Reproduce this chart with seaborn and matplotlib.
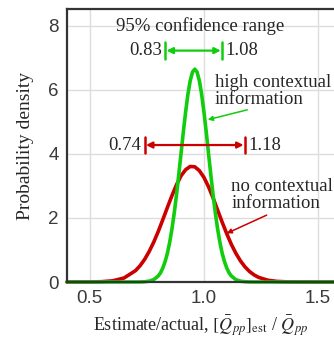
import numpy as np
import pandas as pd
import seaborn as sns
import matplotlib.pyplot as plt

# estimate/actual values and densities
x_high = [0.40, 0.60, 0.70, 0.72, 0.74, 0.76, 0.78, 0.80, 0.81, 0.82, 0.83, 0.84, 0.85,
          0.86, 0.87, 0.88, 0.89, 0.90, 0.91, 0.92, 0.93, 0.94, 0.95, 0.96, 0.97, 0.98,
          0.99, 1.00, 1.01, 1.02, 1.03, 1.04, 1.05, 1.06, 1.07, 1.08, 1.09, 1.10, 1.11,
          1.12, 1.14, 1.16, 1.18, 1.20, 1.22, 1.30, 1.57]
y_high = [0.0, 0.0, 0.001, 0.002, 0.008, 0.026, 0.074, 0.19, 0.29, 0.44, 0.64, 0.90, 1.24,
          1.66, 2.16, 2.73, 3.37, 4.03, 4.70, 5.32, 5.87, 6.29, 6.56, 6.65, 6.56, 6.29,
          5.87, 5.32, 4.70, 4.03, 3.37, 2.73, 2.16, 1.66, 1.24, 0.90, 0.64, 0.44, 0.29,
          0.19, 0.074, 0.026, 0.008, 0.002, 0.001, 0.0, 0.0]

x_none = [0.40, 0.50, 0.55, 0.60, 0.65, 0.70, 0.72, 0.74, 0.76, 0.78, 0.80, 0.82, 0.84,
          0.86, 0.88, 0.90, 0.92, 0.94, 0.96, 0.98, 1.00, 1.02, 1.04, 1.06, 1.08, 1.10,
          1.12, 1.14, 1.16, 1.18, 1.20, 1.22, 1.24, 1.28, 1.32, 1.36, 1.40, 1.50, 1.57]
y_none = [0.0, 0.002, 0.009, 0.037, 0.126, 0.354, 0.507, 0.705, 0.952, 1.245, 1.58, 1.95,
          2.33, 2.70, 3.04, 3.32, 3.51, 3.61, 3.60, 3.48, 3.27, 2.98, 2.63, 2.25, 1.87,
          1.51, 1.18, 0.898, 0.662, 0.473, 0.328, 0.221, 0.144, 0.056, 0.019, 0.006,
          0.002, 0.0, 0.0]

# 95% confidence ranges
ci_high = [0.83, 1.08]
ci_none = [0.74, 1.18]

green = '#12cc0e'
red = '#cc0000'

sns.set_style('whitegrid')
plt.rcParams['font.family'] = ['Liberation Serif', 'DejaVu Serif']
plt.rcParams['mathtext.fontset'] = 'stix'

fig = plt.figure(figsize=(3.34, 3.41), dpi=100)
ax = fig.add_axes([0.2006, 0.173, 0.80, 0.8006])

df = pd.concat([
    pd.DataFrame({'x': x_none, 'y': y_none, 'case': 'none'}),
    pd.DataFrame({'x': x_high, 'y': y_high, 'case': 'high'}),
])
sns.lineplot(data=df, x='x', y='y', hue='case', palette={'none': red, 'high': green},
             linewidth=2.6, legend=False, ax=ax, sort=False)
for line in ax.lines:
    line.set_clip_on(False)

ax.set_xlim(0.4, 1.571)
ax.set_ylim(0, 8.53)
ax.set_xticks([0.5, 1.0, 1.5])
ax.set_yticks([0, 2, 4, 6, 8])
ax.set_xticklabels(['0.5', '1.0', '1.5'], family='Liberation Sans', color='#3a3a3a', fontsize=13.5)
ax.set_yticklabels(['0', '2', '4', '6', '8'], family='Liberation Sans', color='#3a3a3a', fontsize=13.5)
ax.grid(True, color='#dddddd', linewidth=1.0)
ax.tick_params(direction='inout', length=6, width=1.2, color='#333333', pad=3)
for side in ['left', 'top', 'bottom']:
    ax.spines[side].set_color('#333333')
    ax.spines[side].set_linewidth(1.6)
ax.spines['right'].set_visible(False)

ax.set_ylabel('Probability density', fontsize=14, labelpad=10)
ax.set_xlabel(r'Estimate/actual, $[\bar{Q}_{pp}]_{\rm est}$ / $\bar{Q}_{pp}$', fontsize=13, labelpad=4)

# confidence range bars
ax.text(0.982, 8.0, '95% confidence range', ha='center', va='center', fontsize=13.5)
for (lo, hi), yb, col in [(ci_high, 7.23, green), (ci_none, 4.28, red)]:
    ax.annotate('', xy=(lo, yb), xytext=(hi, yb),
                arrowprops=dict(arrowstyle='<|-|>', color=col, lw=1.6,
                                mutation_scale=9, shrinkA=1, shrinkB=1))
    ax.plot([lo, lo], [yb - 0.26, yb + 0.26], color=col, lw=1.8)
    ax.plot([hi, hi], [yb - 0.26, yb + 0.26], color=col, lw=1.8)
    ax.text(lo - 0.015, yb, f'{lo:.2f}', ha='right', va='center', fontsize=13.5)
    ax.text(hi + 0.015, yb, f'{hi:.2f}', ha='left', va='center', fontsize=13.5)

# curve labels
ax.text(1.048, 5.97, 'high contextual\ninformation', ha='left', va='center',
        fontsize=13.5, linespacing=0.95)
ax.annotate('', xy=(1.017, 5.07), xytext=(1.19, 5.38),
            arrowprops=dict(arrowstyle='-|>', color=green, lw=1.1, mutation_scale=7,
                            shrinkA=0, shrinkB=0))
ax.text(1.12, 2.72, 'no contextual\ninformation', ha='left', va='center',
        fontsize=13.5, linespacing=0.95)
ax.annotate('', xy=(1.10, 1.52), xytext=(1.275, 2.09),
            arrowprops=dict(arrowstyle='-|>', color=red, lw=1.1, mutation_scale=7,
                            shrinkA=0, shrinkB=0))

fig.savefig('out.png', dpi=100)
